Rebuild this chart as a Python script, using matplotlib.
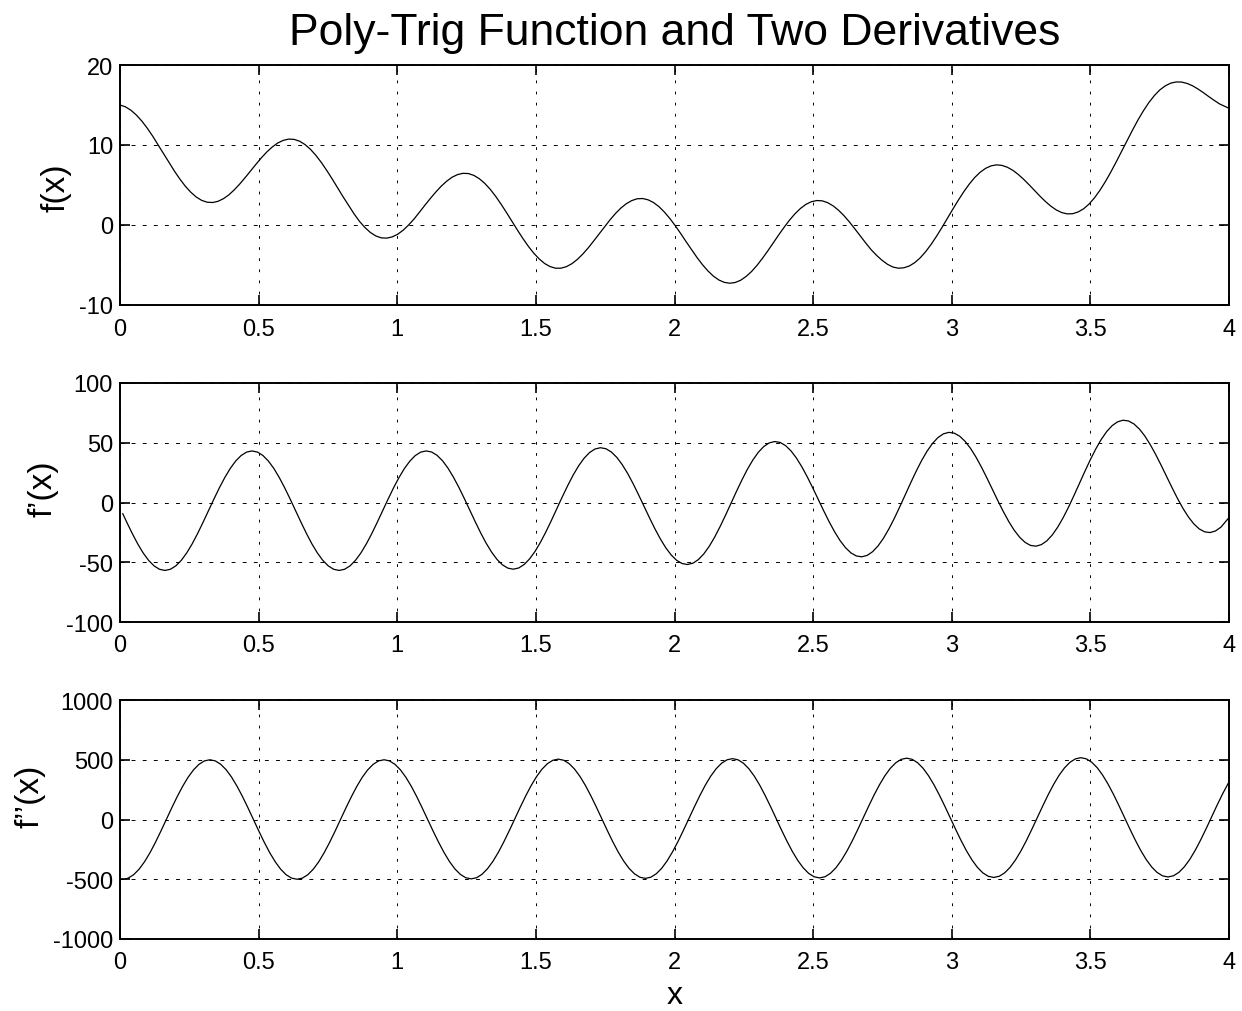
import matplotlib
matplotlib.use("Agg")
import matplotlib.pyplot as plt

plt.rcParams['font.family'] = ['Liberation Sans', 'DejaVu Sans']
plt.rcParams['axes.unicode_minus'] = False
plt.rcParams['lines.scale_dashes'] = False

# ---------------- data ----------------
# f(x): main sample positions and values
x_f_a = [0.0000, 0.0393, 0.0785, 0.1178, 0.1571, 0.1963, 0.2356, 0.2749, 0.3142, 0.3534,
         0.3927, 0.4320, 0.4712, 0.5105, 0.5498, 0.5890, 0.6283, 0.6676, 0.7069, 0.7461,
         0.7854, 0.8247, 0.8639, 0.9032, 0.9425, 0.9817, 1.0210, 1.0603, 1.0996, 1.1388,
         1.1781, 1.2174, 1.2566, 1.2959, 1.3352, 1.3744, 1.4137, 1.4530, 1.4923, 1.5315,
         1.5708, 1.6101, 1.6493, 1.6886, 1.7279, 1.7671, 1.8064, 1.8457, 1.8850, 1.9242,
         1.9635, 2.0028, 2.0420, 2.0813, 2.1206, 2.1598, 2.1991, 2.2384, 2.2777, 2.3169,
         2.3562, 2.3955, 2.4347, 2.4740, 2.5133, 2.5525, 2.5918, 2.6311, 2.6704, 2.7096,
         2.7489, 2.7882, 2.8274, 2.8667, 2.9060, 2.9452, 2.9845, 3.0238, 3.0631, 3.1023,
         3.1416, 3.1809, 3.2201, 3.2594, 3.2987, 3.3379, 3.3772, 3.4165, 3.4558, 3.4950,
         3.5343, 3.5736, 3.6128, 3.6521, 3.6914, 3.7306, 3.7699, 3.8092, 3.8485, 3.8877,
         3.9270, 3.9663, 4.0000]
f_a = [15.00, 14.35, 13.00, 11.11, 8.92, 6.74, 4.85, 3.50, 2.85, 2.96,
       3.77, 5.13, 6.77, 8.42, 9.77, 10.58, 10.70, 10.05, 8.69, 6.80,
       4.62, 2.44, 0.45, -0.94, -1.61, -1.49, -0.66, 0.74, 2.47, 4.11,
       5.47, 6.30, 6.43, 5.79, 4.47, 2.61, 0.46, -1.68, -3.52, -4.81,
       -5.40, -5.21, -4.31, -2.87, -1.12, 0.63, 2.11, 3.05, 3.31, 2.81,
       1.62, -0.09, -2.09, -4.07, -5.74, -6.87, -7.28, -6.91, -5.82, -4.18,
       -2.24, -0.28, 1.41, 2.58, 3.06, 2.79, 1.84, 0.37, -1.38, -3.10,
       -4.42, -5.26, -5.35, -4.70, -3.33, -1.40, 0.85, 3.11, 5.11, 6.59,
       7.39, 7.45, 6.84, 5.71, 4.31, 2.94, 1.88, 1.39, 1.63, 2.61,
       4.33, 6.61, 9.21, 11.87, 14.28, 16.17, 17.39, 17.88, 17.70, 17.01,
       16.05, 15.13, 14.59]
# f(x): in-between sample positions and values
x_f_b = [0.0196, 0.0589, 0.0982, 0.1374, 0.1767, 0.2160, 0.2553, 0.2945, 0.3338, 0.3731,
         0.4123, 0.4516, 0.4909, 0.5301, 0.5694, 0.6087, 0.6480, 0.6872, 0.7265, 0.7658,
         0.8050, 0.8443, 0.8836, 0.9228, 0.9621, 1.0014, 1.0407, 1.0799, 1.1192, 1.1585,
         1.1977, 1.2370, 1.2763, 1.3155, 1.3548, 1.3941, 1.4334, 1.4726, 1.5119, 1.5512,
         1.5904, 1.6297, 1.6690, 1.7082, 1.7475, 1.7868, 1.8261, 1.8653, 1.9046, 1.9439,
         1.9831, 2.0224, 2.0617, 2.1009, 2.1402, 2.1795, 2.2188, 2.2580, 2.2973, 2.3366,
         2.3758, 2.4151, 2.4544, 2.4936, 2.5329, 2.5722, 2.6115, 2.6507, 2.6900, 2.7293,
         2.7685, 2.8078, 2.8471, 2.8863, 2.9256, 2.9649, 3.0042, 3.0434, 3.0827, 3.1220,
         3.1612, 3.2005, 3.2398, 3.2790, 3.3183, 3.3576, 3.3969, 3.4361, 3.4754, 3.5147,
         3.5539, 3.5932, 3.6325, 3.6717, 3.7110, 3.7503, 3.7896, 3.8288, 3.8681, 3.9074,
         3.9466]
f_b = [14.77, 13.75, 12.11, 10.03, 7.82, 5.74, 4.10, 3.08, 2.81, 3.29,
       4.40, 5.93, 7.61, 9.15, 10.26, 10.74, 10.47, 9.45, 7.80, 5.73,
       3.51, 1.39, -0.32, -1.37, -1.64, -1.16, -0.01, 1.59, 3.31, 4.85,
       5.97, 6.46, 6.20, 5.21, 3.59, 1.55, -0.63, -2.65, -4.24, -5.20,
       -5.40, -4.84, -3.64, -2.01, -0.23, 1.43, 2.66, 3.28, 3.15, 2.30,
       0.82, -1.07, -3.09, -4.96, -6.39, -7.17, -7.19, -6.44, -5.06, -3.23,
       -1.24, 0.62, 2.07, 2.91, 3.02, 2.39, 1.16, -0.49, -2.26, -3.81,
       -4.92, -5.40, -5.12, -4.10, -2.42, -0.30, 2.00, 4.16, 5.93, 7.08,
       7.52, 7.22, 6.32, 5.03, 3.60, 2.35, 1.55, 1.41, 2.02, 3.39,
       5.41, 7.89, 10.56, 13.13, 15.31, 16.88, 17.73, 17.87, 17.41, 16.55,
       15.58]

# f'(x)
x_d1_a = [0.0100, 0.0443, 0.0835, 0.1228, 0.1621, 0.2013, 0.2406, 0.2799, 0.3192, 0.3584,
          0.3977, 0.4370, 0.4762, 0.5155, 0.5548, 0.5940, 0.6333, 0.6726, 0.7119, 0.7511,
          0.7904, 0.8297, 0.8689, 0.9082, 0.9475, 0.9867, 1.0260, 1.0653, 1.1046, 1.1438,
          1.1831, 1.2224, 1.2616, 1.3009, 1.3402, 1.3794, 1.4187, 1.4580, 1.4973, 1.5365,
          1.5758, 1.6151, 1.6543, 1.6936, 1.7329, 1.7721, 1.8114, 1.8507, 1.8900, 1.9292,
          1.9685, 2.0078, 2.0470, 2.0863, 2.1256, 2.1648, 2.2041, 2.2434, 2.2827, 2.3219,
          2.3612, 2.4005, 2.4397, 2.4790, 2.5183, 2.5575, 2.5968, 2.6361, 2.6754, 2.7146,
          2.7539, 2.7932, 2.8324, 2.8717, 2.9110, 2.9502, 2.9895, 3.0288, 3.0681, 3.1073,
          3.1466, 3.1859, 3.2251, 3.2644, 3.3037, 3.3429, 3.3822, 3.4215, 3.4608, 3.5000,
          3.5393, 3.5786, 3.6178, 3.6571, 3.6964, 3.7356, 3.7749, 3.8142, 3.8535, 3.8927,
          3.9320, 3.9713, 4.0000]
d1_a = [-9.35, -25.98, -42.21, -53.04, -56.85, -53.04, -42.21, -25.98, -6.85, 12.28,
        28.51, 39.34, 43.15, 39.34, 28.51, 12.28, -6.85, -25.98, -42.21, -53.04,
        -56.85, -53.04, -42.21, -25.98, -6.85, 12.28, 28.51, 39.34, 43.15, 39.43,
        28.71, 12.60, -6.41, -25.41, -41.49, -52.17, -55.82, -51.83, -40.82, -24.40,
        -5.06, 14.28, 30.73, 41.79, 45.84, 42.28, 31.71, 15.75, -3.10, -21.94,
        -37.87, -48.39, -51.88, -47.74, -36.57, -19.99, -0.51, 18.99, 35.60, 46.82,
        51.02, 47.62, 37.21, 21.40, 2.71, -15.98, -31.75, -42.12, -45.45, -41.16,
        -29.84, -13.10, 6.54, 26.19, 42.96, 54.33, 58.69, 55.44, 45.18, 29.53,
        11.00, -7.53, -23.15, -33.36, -36.54, -32.10, -20.62, -3.73, 16.07, 35.88,
        52.80, 64.33, 68.84, 65.75, 55.65, 40.16, 21.77, 3.40, -12.07, -22.12,
        -25.15, -20.54, -12.60]
x_d1_b = [0.0246, 0.0639, 0.1032, 0.1424, 0.1817, 0.2210, 0.2603, 0.2995, 0.3388, 0.3781,
          0.4173, 0.4566, 0.4959, 0.5351, 0.5744, 0.6137, 0.6530, 0.6922, 0.7315, 0.7708,
          0.8100, 0.8493, 0.8886, 0.9278, 0.9671, 1.0064, 1.0457, 1.0849, 1.1242, 1.1635,
          1.2027, 1.2420, 1.2813, 1.3205, 1.3598, 1.3991, 1.4384, 1.4776, 1.5169, 1.5562,
          1.5954, 1.6347, 1.6740, 1.7132, 1.7525, 1.7918, 1.8311, 1.8703, 1.9096, 1.9489,
          1.9881, 2.0274, 2.0667, 2.1059, 2.1452, 2.1845, 2.2238, 2.2630, 2.3023, 2.3416,
          2.3808, 2.4201, 2.4594, 2.4986, 2.5379, 2.5772, 2.6165, 2.6557, 2.6950, 2.7343,
          2.7735, 2.8128, 2.8521, 2.8913, 2.9306, 2.9699, 3.0092, 3.0484, 3.0877, 3.1270,
          3.1662, 3.2055, 3.2448, 3.2840, 3.3233, 3.3626, 3.4019, 3.4411, 3.4804, 3.5197,
          3.5589, 3.5982, 3.6375, 3.6767, 3.7160, 3.7553, 3.7946, 3.8338, 3.8731, 3.9124,
          3.9516]
d1_b = [-16.60, -34.63, -48.42, -55.89, -55.89, -48.42, -34.63, -16.60, 2.90, 20.93,
        34.72, 42.19, 42.19, 34.72, 20.93, 2.90, -16.60, -34.63, -48.42, -55.89,
        -55.89, -48.42, -34.63, -16.60, 2.90, 20.93, 34.72, 42.19, 42.24, 34.87,
        21.19, 3.28, -16.09, -33.99, -47.63, -54.94, -54.77, -47.12, -33.14, -14.92,
        4.79, 23.04, 37.06, 44.76, 45.01, 37.79, 24.27, 6.51, -12.70, -30.44,
        -43.92, -51.08, -50.76, -42.95, -28.82, -10.44, 9.43, 27.83, 42.00, 49.87,
        50.27, 43.21, 29.84, 12.24, -6.82, -24.40, -37.73, -44.73, -44.25, -36.29,
        -22.01, -3.47, 16.55, 35.11, 49.44, 57.45, 58.01, 51.11, 37.89, 20.45,
        1.55, -15.88, -29.05, -35.90, -35.26, -27.15, -12.71, 5.99, 26.16, 44.88,
        59.36, 67.53, 68.24, 61.50, 48.44, 31.15, 12.40, -4.87, -17.89, -24.58,
        -23.79]

# f''(x)
x_d2_a = [0.0200, 0.0493, 0.0885, 0.1278, 0.1671, 0.2063, 0.2456, 0.2849, 0.3242, 0.3634,
          0.4027, 0.4420, 0.4812, 0.5205, 0.5598, 0.5990, 0.6383, 0.6776, 0.7169, 0.7561,
          0.7954, 0.8347, 0.8739, 0.9132, 0.9525, 0.9917, 1.0310, 1.0703, 1.1096, 1.1488,
          1.1881, 1.2274, 1.2666, 1.3059, 1.3452, 1.3844, 1.4237, 1.4630, 1.5023, 1.5415,
          1.5808, 1.6201, 1.6593, 1.6986, 1.7379, 1.7771, 1.8164, 1.8557, 1.8950, 1.9342,
          1.9735, 2.0128, 2.0520, 2.0913, 2.1306, 2.1698, 2.2091, 2.2484, 2.2877, 2.3269,
          2.3662, 2.4055, 2.4447, 2.4840, 2.5233, 2.5625, 2.6018, 2.6411, 2.6804, 2.7196,
          2.7589, 2.7982, 2.8374, 2.8767, 2.9160, 2.9552, 2.9945, 3.0338, 3.0731, 3.1123,
          3.1516, 3.1909, 3.2301, 3.2694, 3.3087, 3.3479, 3.3872, 3.4265, 3.4658, 3.5050,
          3.5443, 3.5836, 3.6228, 3.6621, 3.7014, 3.7406, 3.7799, 3.8192, 3.8585, 3.8977,
          3.9370, 3.9763, 4.0000]
d2_a = [-497.5, -461.9, -353.6, -191.3, 0.0, 191.3, 353.6, 461.9, 500.0, 461.9,
        353.6, 191.3, 0.0, -191.3, -353.6, -461.9, -500.0, -461.9, -353.6, -191.3,
        0.0, 191.3, 353.6, 461.9, 500.0, 461.9, 353.6, 191.3, 0.0, -188.8,
        -350.8, -458.9, -496.7, -458.4, -349.8, -187.3, 4.3, 195.8, 358.4, 466.9,
        505.3, 467.4, 359.4, 197.3, 6.3, -184.8, -346.8, -454.9, -492.7, -454.4,
        -345.9, -183.3, 8.2, 199.8, 362.3, 470.9, 509.2, 471.4, 363.3, 201.3,
        10.2, -180.8, -342.9, -450.9, -488.8, -450.4, -341.9, -179.3, 12.2, 203.8,
        366.3, 474.9, 513.2, 475.3, 367.3, 205.2, 14.2, -176.9, -338.9, -447.0,
        -484.8, -446.5, -337.9, -175.4, 16.2, 207.7, 370.3, 478.8, 517.2, 479.3,
        371.2, 209.2, 18.1, -172.9, -335.0, -443.0, -480.9, -442.5, -334.0, -171.4,
        20.1, 211.7, 315.0]
x_d2_b = [0.0296, 0.0689, 0.1082, 0.1474, 0.1867, 0.2260, 0.2653, 0.3045, 0.3438, 0.3831,
          0.4223, 0.4616, 0.5009, 0.5401, 0.5794, 0.6187, 0.6580, 0.6972, 0.7365, 0.7758,
          0.8150, 0.8543, 0.8936, 0.9328, 0.9721, 1.0114, 1.0507, 1.0899, 1.1292, 1.1685,
          1.2077, 1.2470, 1.2863, 1.3255, 1.3648, 1.4041, 1.4434, 1.4826, 1.5219, 1.5612,
          1.6004, 1.6397, 1.6790, 1.7182, 1.7575, 1.7968, 1.8361, 1.8753, 1.9146, 1.9539,
          1.9931, 2.0324, 2.0717, 2.1109, 2.1502, 2.1895, 2.2288, 2.2680, 2.3073, 2.3466,
          2.3858, 2.4251, 2.4644, 2.5036, 2.5429, 2.5822, 2.6215, 2.6607, 2.7000, 2.7393,
          2.7785, 2.8178, 2.8571, 2.8963, 2.9356, 2.9749, 3.0142, 3.0534, 3.0927, 3.1320,
          3.1712, 3.2105, 3.2498, 3.2890, 3.3283, 3.3676, 3.4069, 3.4461, 3.4854, 3.5247,
          3.5639, 3.6032, 3.6425, 3.6817, 3.7210, 3.7603, 3.7996, 3.8388, 3.8781, 3.9174,
          3.9566]
d2_b = [-490.4, -415.7, -277.8, -97.5, 97.5, 277.8, 415.7, 490.4, 490.4, 415.7,
        277.8, 97.5, -97.5, -277.8, -415.7, -490.4, -490.4, -415.7, -277.8, -97.5,
        97.5, 277.8, 415.7, 490.4, 490.4, 415.7, 277.8, 97.5, -96.2, -275.1,
        -412.8, -487.2, -487.0, -412.0, -273.9, -93.3, 101.9, 282.5, 420.6, 495.6,
        495.8, 421.4, 283.7, 103.7, -91.1, -271.2, -408.8, -483.3, -483.0, -408.1,
        -269.9, -89.4, 105.9, 286.4, 424.6, 499.5, 499.8, 425.3, 287.7, 107.6,
        -87.2, -267.2, -404.9, -479.3, -479.1, -404.1, -266.0, -85.4, 109.8, 290.4,
        428.5, 503.5, 503.7, 429.3, 291.6, 111.6, -83.2, -263.2, -400.9, -475.4,
        -475.1, -400.2, -262.0, -81.5, 113.8, 294.3, 432.5, 507.4, 507.7, 433.2,
        295.6, 115.5, -79.2, -259.3, -396.9, -471.4, -471.1, -396.2, -258.1, -77.5,
        117.8]

x_ticks = [0, 0.5, 1, 1.5, 2, 2.5, 3, 3.5, 4]
x_tick_labels = ['0', '0.5', '1', '1.5', '2', '2.5', '3', '3.5', '4']
y_ticks_f = [-10, 0, 10, 20]
y_ticks_d1 = [-100, -50, 0, 50, 100]
y_ticks_d2 = [-1000, -500, 0, 500, 1000]

title_text = 'Poly-Trig Function and Two Derivatives'
ylabels = ['f(x)', 'f\u2019(x)', 'f\u2019\u2019(x)']
xlabel_text = 'x'


def merged(xa, ya, xb, yb):
    pts = sorted(zip(list(xa) + list(xb), list(ya) + list(yb)))
    return [p[0] for p in pts], [p[1] for p in pts]


# ---------------- layout ----------------
W, H = 1242, 1012
fig = plt.figure(figsize=(W / 100, H / 100), dpi=100)


def px_axes(left, top, right, bottom):
    return [left / W, 1 - bottom / H, (right - left) / W, (bottom - top) / H]


ax_boxes = [px_axes(120, 66, 1229, 306),
            px_axes(120, 384, 1229, 623),
            px_axes(120, 701, 1229, 940)]
label_coords = [(-0.0577, 0.492), (-0.0692, 0.563), (-0.0812, 0.600)]

series = [(merged(x_f_a, f_a, x_f_b, f_b), y_ticks_f),
          (merged(x_d1_a, d1_a, x_d1_b, d1_b), y_ticks_d1),
          (merged(x_d2_a, d2_a, x_d2_b, d2_b), y_ticks_d2)]

axes = []
for box, ((xs, ys), yt), lab, lc in zip(ax_boxes, series, ylabels, label_coords):
    ax = fig.add_axes(box)
    ax.plot(xs, ys, color='black', linewidth=0.9)
    ax.set_xlim(x_ticks[0], x_ticks[-1])
    ax.set_ylim(yt[0], yt[-1])
    ax.set_xticks(x_ticks)
    ax.set_xticklabels(x_tick_labels)
    ax.set_yticks(yt)
    ax.set_yticklabels([str(v) for v in yt])
    ax.tick_params(direction='in', top=True, right=True, length=7, width=1.2,
                   labelsize=17, colors='black')
    ax.tick_params(axis='x', pad=9)
    ax.tick_params(axis='y', pad=5)
    ax.grid(True, axis='x', color='black', linestyle=(0, (2.0, 6.0)), linewidth=0.7)
    ax.grid(True, axis='y', color='black', linestyle=(0, (2.8, 5.2)), linewidth=0.7)
    for sp in ax.spines.values():
        sp.set_linewidth(1.4)
        sp.set_color('black')
    ax.set_ylabel(lab, fontsize=24, va='center', ha='center')
    ax.yaxis.set_label_coords(lc[0], lc[1])
    axes.append(ax)

axes[0].set_title(title_text, fontsize=32, pad=15)
axes[2].set_xlabel(xlabel_text, fontsize=23, labelpad=5)

fig.savefig('out.png', dpi=100, facecolor='white')
